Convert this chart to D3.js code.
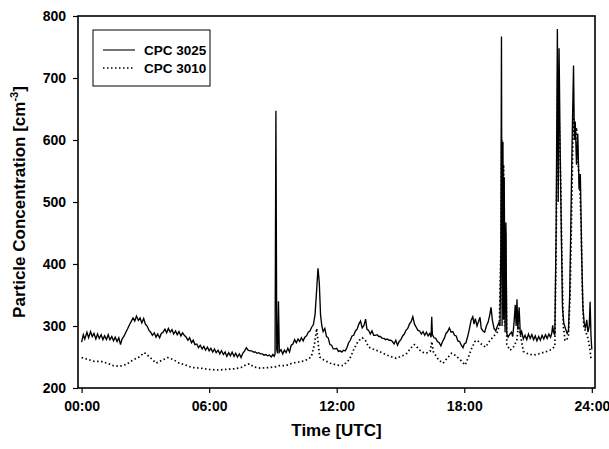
<!DOCTYPE html>
<html>
<head>
<meta charset="utf-8">
<script src="https://cdn.jsdelivr.net/npm/d3@7"></script>
<style>
  body { margin: 0; background: #fff; }
  svg { display: block; font-family: "Liberation Sans", Arial, sans-serif; }
  .tick text { font-weight: bold; font-size: 14px; fill: #000; }
</style>
</head>
<body>
<svg id="chart" width="609" height="449"></svg>
<script>
// time in hours (UTC), concentration in cm^-3
const seriesNames = ["CPC 3025", "CPC 3010"];
const xTicks = [0, 6, 12, 18, 24];
const xTickLabels = ["00:00", "06:00", "12:00", "18:00", "24:00"];
const yTicks = [200, 300, 400, 500, 600, 700, 800];

const cpc3025 = [
  [0.00,274],[0.08,286],[0.15,279],[0.25,290],[0.33,281],[0.42,291],[0.50,283],[0.58,288],
  [0.67,279],[0.75,287],[0.83,280],[0.92,286],[1.00,278],[1.08,284],[1.17,278],[1.25,286],
  [1.33,278],[1.42,283],[1.50,276],[1.58,282],[1.67,275],[1.75,281],[1.83,270],[1.90,279],
  [2.00,284],[2.08,290],[2.17,296],[2.25,302],[2.33,307],[2.42,313],[2.50,308],[2.58,316],
  [2.67,309],[2.75,313],[2.83,305],[2.92,312],[3.00,303],[3.08,300],[3.17,293],[3.25,290],
  [3.33,285],[3.42,289],[3.50,282],[3.58,287],[3.67,281],[3.75,288],[3.83,290],[3.92,295],
  [4.00,289],[4.08,296],[4.17,290],[4.25,294],[4.33,287],[4.42,292],[4.50,286],[4.58,291],
  [4.67,284],[4.75,289],[4.83,285],[4.92,282],[5.00,277],[5.08,281],[5.17,273],[5.25,277],
  [5.33,270],[5.42,271],[5.50,265],[5.58,269],[5.67,263],[5.75,267],[5.83,261],[5.92,266],
  [6.00,260],[6.08,264],[6.17,258],[6.25,263],[6.33,257],[6.42,261],[6.50,255],[6.58,260],
  [6.67,254],[6.75,258],[6.83,251],[6.92,257],[7.00,252],[7.08,258],[7.17,251],[7.25,256],
  [7.33,250],[7.42,255],[7.50,249],[7.58,256],[7.67,260],[7.75,265],[7.83,261],[7.92,260],
  [8.00,260],[8.08,258],[8.17,258],[8.25,256],[8.33,257],[8.42,255],[8.50,255],[8.58,253],
  [8.67,254],[8.75,252],[8.83,253],[8.92,250],[9.00,254],[9.06,251],[9.10,255],[9.14,647],
  [9.18,262],[9.22,256],[9.26,340],[9.30,258],[9.38,262],[9.46,255],[9.54,261],[9.62,257],
  [9.70,264],[9.78,258],[9.86,269],[9.94,271],[10.02,278],[10.10,273],[10.18,279],[10.26,275],
  [10.34,281],[10.42,276],[10.50,282],[10.58,284],[10.66,290],[10.74,292],[10.82,298],[10.90,302],
  [10.98,318],[11.06,360],[11.12,393],[11.18,370],[11.24,318],[11.30,300],[11.36,291],[11.44,296],
  [11.52,283],[11.60,281],[11.68,270],[11.76,269],[11.84,263],[11.92,263],[12.00,264],[12.08,259],
  [12.16,260],[12.24,258],[12.32,261],[12.40,260],[12.48,265],[12.56,273],[12.64,277],[12.72,284],
  [12.80,285],[12.88,292],[12.96,295],[13.04,303],[13.12,308],[13.20,297],[13.28,301],[13.36,311],
  [13.42,295],[13.50,293],[13.58,287],[13.66,292],[13.74,285],[13.82,285],[13.90,286],[13.98,283],
  [14.06,283],[14.14,280],[14.22,280],[14.30,278],[14.38,279],[14.46,277],[14.54,277],[14.62,275],
  [14.70,271],[14.78,277],[14.86,269],[14.94,275],[15.02,278],[15.10,284],[15.18,287],[15.26,293],
  [15.34,296],[15.42,303],[15.50,307],[15.58,315],[15.66,303],[15.74,298],[15.82,293],[15.90,292],
  [15.98,287],[16.06,291],[16.14,285],[16.22,290],[16.30,284],[16.38,288],[16.44,282],[16.47,315],
  [16.50,286],[16.58,281],[16.66,280],[16.74,275],[16.82,273],[16.90,268],[16.98,275],[17.06,280],
  [17.14,288],[17.22,291],[17.30,297],[17.38,290],[17.46,291],[17.54,285],[17.62,284],[17.70,276],
  [17.78,275],[17.86,269],[17.94,265],[18.00,271],[18.08,273],[18.16,283],[18.24,295],[18.32,309],
  [18.40,315],[18.46,303],[18.52,312],[18.60,300],[18.68,308],[18.74,314],[18.80,296],[18.88,292],
  [18.96,290],[19.04,300],[19.12,306],[19.20,318],[19.26,330],[19.32,310],[19.40,296],[19.48,292],
  [19.56,300],[19.62,305],[19.68,300],[19.72,420],[19.75,767],[19.78,300],[19.82,597],[19.85,310],
  [19.88,540],[19.92,290],[19.96,467],[20.00,288],[20.06,282],[20.14,287],[20.22,290],[20.28,283],
  [20.34,305],[20.40,334],[20.44,300],[20.48,343],[20.52,294],[20.58,330],[20.64,285],[20.70,291],
  [20.78,279],[20.86,285],[20.94,278],[21.02,287],[21.10,280],[21.18,286],[21.26,278],[21.34,284],
  [21.42,276],[21.50,283],[21.58,277],[21.66,285],[21.74,279],[21.82,286],[21.90,280],[21.98,287],
  [22.06,282],[22.12,289],[22.16,301],[22.20,290],[22.26,285],[22.32,450],[22.38,779],[22.42,500],
  [22.46,748],[22.52,560],[22.58,420],[22.62,330],[22.68,305],[22.76,296],[22.84,288],[22.90,292],
  [22.96,350],[23.02,480],[23.08,610],[23.14,720],[23.18,600],[23.22,630],[23.28,560],[23.34,610],
  [23.40,520],[23.46,545],[23.52,420],[23.58,330],[23.64,305],[23.70,296],[23.76,310],[23.82,290],
  [23.88,300],[23.92,339],[23.96,285],[24.00,262]
];

const cpc3010 = [
  [0.0,249],[0.3,246],[0.6,243],[0.9,243],[1.2,240],[1.5,236],[1.8,235],[2.1,238],
  [2.4,245],[2.7,250],[2.95,257],[3.2,250],[3.5,240],[3.8,245],[4.05,249],[4.3,246],
  [4.6,240],[4.9,237],[5.2,233],[5.6,232],[6.0,230],[6.4,229],[6.8,230],[7.2,231],
  [7.5,233],[7.75,238],[7.9,239],[8.1,234],[8.4,232],[8.8,233],[9.1,234],[9.3,236],
  [9.6,236],[9.9,240],[10.2,242],[10.5,244],[10.8,250],[10.95,270],[11.06,296],[11.12,275],
  [11.2,250],[11.4,245],[11.7,240],[12.0,237],[12.3,236],[12.6,246],[12.8,262],[13.0,275],
  [13.2,281],[13.35,277],[13.5,266],[13.7,263],[14.0,259],[14.3,254],[14.6,250],[14.8,248],
  [15.1,252],[15.3,256],[15.5,265],[15.65,270],[15.8,265],[16.0,258],[16.2,256],[16.4,259],
  [16.47,275],[16.55,258],[16.8,245],[17.0,240],[17.2,248],[17.4,256],[17.6,252],[17.85,244],
  [18.04,237],[18.2,250],[18.35,264],[18.5,275],[18.6,277],[18.8,271],[19.0,266],[19.2,276],
  [19.37,283],[19.55,290],[19.65,300],[19.72,420],[19.76,600],[19.8,330],[19.85,560],[19.9,300],
  [19.95,450],[20.0,270],[20.15,261],[20.3,265],[20.47,277],[20.55,300],[20.62,290],[20.78,259],
  [21.0,255],[21.25,253],[21.5,255],[21.88,259],[22.1,262],[22.26,267],[22.32,420],[22.4,700],
  [22.46,640],[22.52,560],[22.6,400],[22.66,300],[22.74,277],[22.82,277],[22.9,285],[22.98,350],
  [23.05,480],[23.13,640],[23.2,600],[23.28,620],[23.36,560],[23.44,520],[23.5,460],[23.56,350],
  [23.62,300],[23.72,290],[23.82,280],[23.9,265],[23.96,248],[24.0,245]
];

const svg = d3.select("#chart");
const margin = { left: 78, top: 16, right: 14, bottom: 61 };
const W = 609, H = 449;
const iw = W - margin.left - margin.right;
const ih = H - margin.top - margin.bottom;

const x = d3.scaleLinear().domain([-0.17, 24.15]).range([margin.left, margin.left + iw]);
const y = d3.scaleLinear().domain([200, 800]).range([margin.top + ih, margin.top]);

svg.append("defs").append("clipPath").attr("id", "plot-clip")
  .append("rect")
  .attr("x", margin.left).attr("y", margin.top)
  .attr("width", iw).attr("height", ih);

const line = d3.line().x(d => x(d[0])).y(d => y(d[1]));

const g = svg.append("g").attr("clip-path", "url(#plot-clip)");

g.append("path")
  .datum(cpc3010)
  .attr("d", line)
  .attr("fill", "none")
  .attr("stroke", "#000")
  .attr("stroke-width", 1.7)
  .attr("stroke-dasharray", "1.5,2.5");

g.append("path")
  .datum(cpc3025)
  .attr("d", line)
  .attr("fill", "none")
  .attr("stroke", "#000")
  .attr("stroke-width", 1.35);

// axes
const xAxis = d3.axisBottom(x)
  .tickValues(xTicks)
  .tickFormat((d, i) => xTickLabels[i])
  .tickSize(5).tickSizeOuter(0).tickPadding(8);

const yAxis = d3.axisLeft(y)
  .tickValues(yTicks)
  .tickSize(5).tickSizeOuter(0).tickPadding(7);

const gx = svg.append("g")
  .attr("transform", `translate(0,${margin.top + ih})`)
  .call(xAxis);
const gy = svg.append("g")
  .attr("transform", `translate(${margin.left},0)`)
  .call(yAxis);

[gx, gy].forEach(a => {
  a.select(".domain").remove();
  a.selectAll(".tick line").attr("stroke", "#000").attr("stroke-width", 1.2);
});

// frame
svg.append("rect")
  .attr("x", margin.left).attr("y", margin.top)
  .attr("width", iw).attr("height", ih)
  .attr("fill", "none")
  .attr("stroke", "#000")
  .attr("stroke-width", 1.6);

// axis titles
svg.append("text")
  .attr("x", margin.left + iw / 2)
  .attr("y", 436)
  .attr("text-anchor", "middle")
  .attr("font-size", 17)
  .attr("font-weight", "bold")
  .text("Time [UTC]");

const yt = svg.append("text")
  .attr("transform", `translate(25,${margin.top + ih / 2}) rotate(-90)`)
  .attr("text-anchor", "middle")
  .attr("font-size", 17)
  .attr("font-weight", "bold");
yt.append("tspan").text("Particle Concentration [cm");
yt.append("tspan").attr("font-size", 11).attr("dy", -7).text("-3");
yt.append("tspan").attr("dy", 7).text("]");

// legend
const legend = svg.append("g").attr("transform", "translate(93,30)");
legend.append("rect")
  .attr("width", 117).attr("height", 56)
  .attr("fill", "#fff").attr("stroke", "#000").attr("stroke-width", 1);

const items = legend.selectAll("g.item")
  .data(seriesNames)
  .join("g")
  .attr("class", "item")
  .attr("transform", (d, i) => `translate(0,${20 + i * 18})`);

items.append("line")
  .attr("x1", 10).attr("x2", 42)
  .attr("stroke", "#000")
  .attr("stroke-width", (d, i) => i === 0 ? 1.1 : 1.6)
  .attr("stroke-dasharray", (d, i) => i === 0 ? null : "1.5,2.5");

items.append("text")
  .attr("x", 51).attr("y", 4.5)
  .attr("font-size", 13.5)
  .attr("font-weight", "bold")
  .text(d => d);
</script>
</body>
</html>
